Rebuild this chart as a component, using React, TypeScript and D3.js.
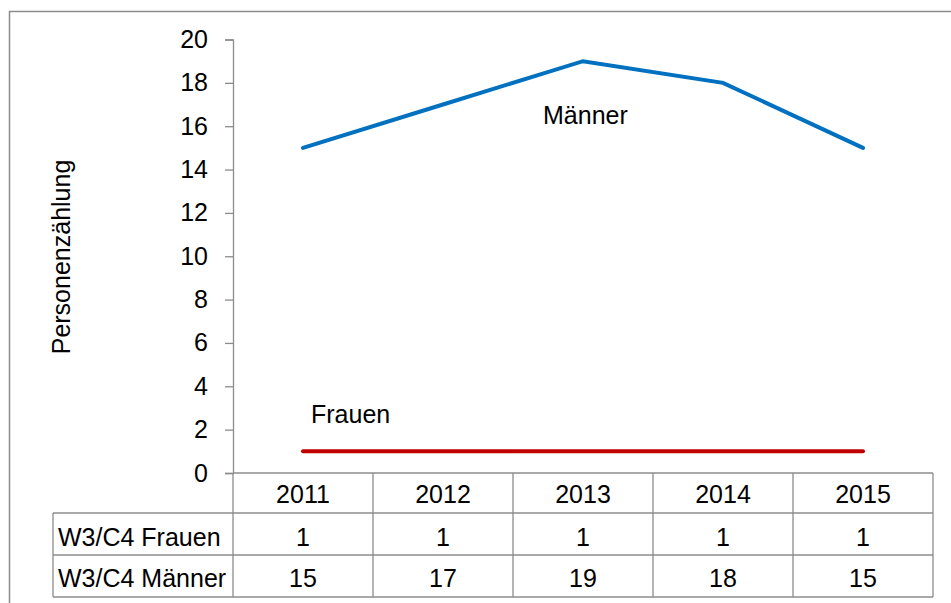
import React, { useEffect, useRef } from 'react';
import * as d3 from 'd3';

const years = ['2011', '2012', '2013', '2014', '2015'];
const frauen = [1, 1, 1, 1, 1];
const maenner = [15, 17, 19, 18, 15];
const yTicks = [0, 2, 4, 6, 8, 10, 12, 14, 16, 18, 20];
const rowLabels = ['W3/C4 Frauen', 'W3/C4 Männer'];

const FONT = "'Liberation Sans', Arial, sans-serif";
const FS = 25;

const App = () => {
  const ref = useRef<SVGSVGElement>(null);

  useEffect(() => {
    const svg = d3.select(ref.current);
    svg.selectAll('*').remove();

    const width = 951;
    const height = 603;
    const plot = { left: 233, right: 933, top: 39.5, bottom: 473 };
    const rowH = [40, 42, 42];

    // outer frame
    svg.append('rect')
      .attr('x', 9.5).attr('y', 11.5)
      .attr('width', width).attr('height', height)
      .attr('fill', 'none').attr('stroke', '#8c8c8c').attr('stroke-width', 1.5);

    const x = d3.scaleBand().domain(years).range([plot.left, plot.right]);
    const y = d3.scaleLinear().domain([0, 20]).range([plot.bottom, plot.top]);

    // y axis
    const yAxis = svg.append('g')
      .attr('transform', `translate(${plot.left},0)`)
      .call(d3.axisLeft(y).tickValues(yTicks).tickSize(8).tickPadding(17).tickSizeOuter(8));
    yAxis.selectAll('path,line').attr('stroke', '#8c8c8c').attr('stroke-width', 1.3);
    yAxis.selectAll('text')
      .attr('font-family', FONT).attr('font-size', FS).attr('fill', '#000');

    svg.append('text')
      .attr('transform', `translate(70,257) rotate(-90)`)
      .attr('text-anchor', 'middle')
      .attr('font-family', FONT).attr('font-size', FS)
      .text('Personenzählung');

    // lines
    const line = d3.line<number>()
      .x((d, i) => (x(years[i]) as number) + x.bandwidth() / 2)
      .y(d => y(d));

    svg.append('path').datum(maenner)
      .attr('d', line).attr('fill', 'none')
      .attr('stroke', '#0070c0').attr('stroke-width', 4).attr('stroke-linecap', 'round');
    svg.append('path').datum(frauen)
      .attr('d', line).attr('fill', 'none')
      .attr('stroke', '#c00000').attr('stroke-width', 4).attr('stroke-linecap', 'round');

    svg.append('text')
      .attr('x', 543).attr('y', 124)
      .attr('font-family', FONT).attr('font-size', FS)
      .text('Männer');
    svg.append('text')
      .attr('x', 311).attr('y', 423)
      .attr('font-family', FONT).attr('font-size', FS)
      .text('Frauen');

    // data table
    const tableLeft = 53;
    const y0 = plot.bottom;
    const y1 = y0 + rowH[0];
    const y2 = y1 + rowH[1];
    const y3 = y2 + rowH[2];
    const grid = svg.append('g').attr('stroke', '#8c8c8c').attr('stroke-width', 1.3).attr('fill', 'none');
    grid.append('line').attr('x1', plot.left).attr('x2', plot.right).attr('y1', y0).attr('y2', y0);
    [y1, y2, y3].forEach(yy => {
      grid.append('line').attr('x1', tableLeft).attr('x2', plot.right).attr('y1', yy).attr('y2', yy);
    });
    grid.append('line').attr('x1', tableLeft).attr('x2', tableLeft).attr('y1', y1).attr('y2', y3);
    years.forEach(yr => {
      const xx = x(yr) as number;
      grid.append('line').attr('x1', xx).attr('x2', xx).attr('y1', y0).attr('y2', y3);
    });
    grid.append('line').attr('x1', plot.right).attr('x2', plot.right).attr('y1', y0).attr('y2', y3);

    const cell = (tx: number, ty: number, s: string, anchor = 'middle') =>
      svg.append('text')
        .attr('x', tx).attr('y', ty)
        .attr('text-anchor', anchor)
        .attr('font-family', FONT).attr('font-size', FS)
        .text(s);

    years.forEach((yr, i) => {
      const cx = (x(yr) as number) + x.bandwidth() / 2;
      cell(cx, y0 + 30, yr);
      cell(cx, y1 + 33, String(frauen[i]));
      cell(cx, y2 + 32, String(maenner[i]));
    });
    cell(tableLeft + 5, y1 + 33, rowLabels[0], 'start');
    cell(tableLeft + 5, y2 + 32, rowLabels[1], 'start');
  }, []);

  return (
    <svg ref={ref} width={951} height={603}
      style={{ position: 'absolute', left: 0, top: 0, background: '#fff' }} />
  );
};

export default App;
